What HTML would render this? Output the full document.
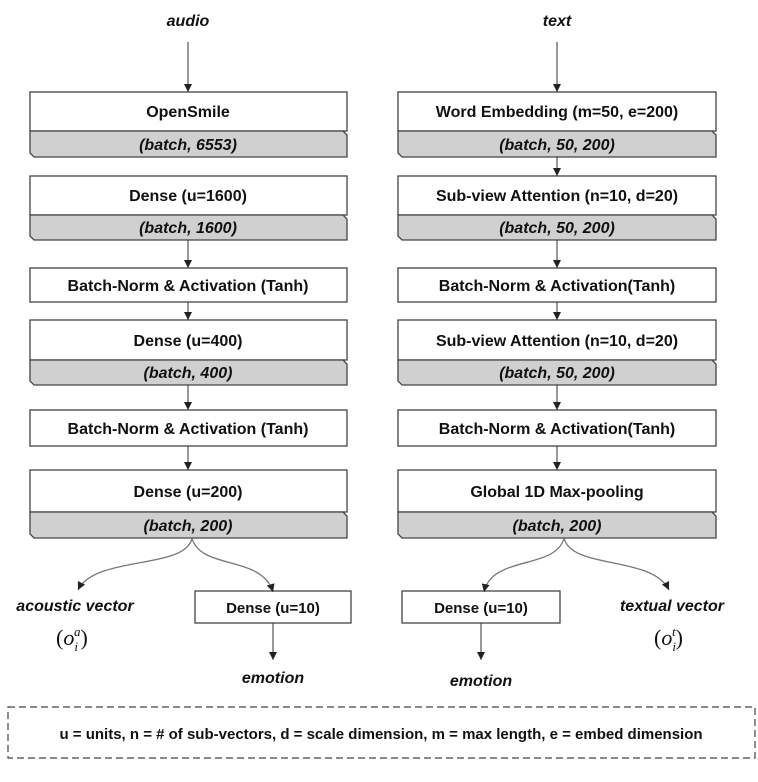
<!DOCTYPE html>
<html><head><meta charset="utf-8"><style>
html,body{margin:0;padding:0;background:#fff;}
svg{display:block;}
text{font-family:"Liberation Sans",sans-serif;font-weight:bold;fill:#111;}
</style></head><body>
<svg width="758" height="782" viewBox="0 0 758 782" xmlns="http://www.w3.org/2000/svg">
<defs>
<marker id="ah" markerWidth="8" markerHeight="8" refX="8" refY="4" orient="auto" markerUnits="userSpaceOnUse">
<path d="M0,0 L8,4 L0,8 z" fill="#222"/>
</marker>
</defs>
<g stroke="#444" stroke-width="1.3">
<rect x="30" y="92" width="317" height="39" fill="#fff"/>
<path d="M30,131 H343 L347,135 V157 H34 L30,153 Z" fill="#d0d0d0"/>
<rect x="30" y="176" width="317" height="39" fill="#fff"/>
<path d="M30,215 H343 L347,219 V240 H34 L30,236 Z" fill="#d0d0d0"/>
<rect x="30" y="268" width="317" height="34" fill="#fff"/>
<rect x="30" y="320" width="317" height="40" fill="#fff"/>
<path d="M30,360 H343 L347,364 V385 H34 L30,381 Z" fill="#d0d0d0"/>
<rect x="30" y="410" width="317" height="36" fill="#fff"/>
<rect x="30" y="470" width="317" height="42" fill="#fff"/>
<path d="M30,512 H343 L347,516 V538 H34 L30,534 Z" fill="#d0d0d0"/>
<rect x="398" y="92" width="318" height="39" fill="#fff"/>
<path d="M398,131 H712 L716,135 V157 H402 L398,153 Z" fill="#d0d0d0"/>
<rect x="398" y="176" width="318" height="39" fill="#fff"/>
<path d="M398,215 H712 L716,219 V240 H402 L398,236 Z" fill="#d0d0d0"/>
<rect x="398" y="268" width="318" height="34" fill="#fff"/>
<rect x="398" y="320" width="318" height="40" fill="#fff"/>
<path d="M398,360 H712 L716,364 V385 H402 L398,381 Z" fill="#d0d0d0"/>
<rect x="398" y="410" width="318" height="36" fill="#fff"/>
<rect x="398" y="470" width="318" height="42" fill="#fff"/>
<path d="M398,512 H712 L716,516 V538 H402 L398,534 Z" fill="#d0d0d0"/>
<rect x="195" y="591" width="156" height="32" fill="#fff"/>
<rect x="402" y="591" width="158" height="32" fill="#fff"/>
</g>
<g stroke="#333" stroke-width="1" fill="none" marker-end="url(#ah)">
<line x1="188" y1="42" x2="188" y2="92"/>
<line x1="188" y1="240" x2="188" y2="268"/>
<line x1="188" y1="302" x2="188" y2="320"/>
<line x1="188" y1="385" x2="188" y2="410"/>
<line x1="188" y1="446" x2="188" y2="470"/>
<line x1="557" y1="42" x2="557" y2="92"/>
<line x1="557" y1="157" x2="557" y2="176"/>
<line x1="557" y1="240" x2="557" y2="268"/>
<line x1="557" y1="302" x2="557" y2="320"/>
<line x1="557" y1="385" x2="557" y2="410"/>
<line x1="557" y1="446" x2="557" y2="470"/>
<line x1="273" y1="623" x2="273" y2="660"/>
<line x1="481" y1="623" x2="481" y2="660"/>
</g>
<g stroke="#777" stroke-width="1.3" fill="none" marker-end="url(#ah)">
<path d="M192,538 C186,570 95,555 78,590"/>
<path d="M192,538 C200,570 262,555 273,592"/>
<path d="M564,538 C556,570 492,555 484,592"/>
<path d="M564,538 C572,570 652,555 669,590"/>
</g>
<g font-size="16" text-anchor="middle">
<text x="188" y="26" font-style="italic">audio</text>
<text x="557" y="26" font-style="italic">text</text>
<text x="188" y="117">OpenSmile</text>
<text x="188" y="150" font-style="italic">(batch, 6553)</text>
<text x="188" y="201">Dense (u=1600)</text>
<text x="188" y="233" font-style="italic">(batch, 1600)</text>
<text x="188" y="291">Batch-Norm &amp; Activation (Tanh)</text>
<text x="188" y="346">Dense (u=400)</text>
<text x="188" y="378" font-style="italic">(batch, 400)</text>
<text x="188" y="434">Batch-Norm &amp; Activation (Tanh)</text>
<text x="188" y="497">Dense (u=200)</text>
<text x="188" y="531" font-style="italic">(batch, 200)</text>
<text x="557" y="117">Word Embedding (m=50, e=200)</text>
<text x="557" y="150" font-style="italic">(batch, 50, 200)</text>
<text x="557" y="201">Sub-view Attention (n=10, d=20)</text>
<text x="557" y="233" font-style="italic">(batch, 50, 200)</text>
<text x="557" y="291">Batch-Norm &amp; Activation(Tanh)</text>
<text x="557" y="346">Sub-view Attention (n=10, d=20)</text>
<text x="557" y="378" font-style="italic">(batch, 50, 200)</text>
<text x="557" y="434">Batch-Norm &amp; Activation(Tanh)</text>
<text x="557" y="497">Global 1D Max-pooling</text>
<text x="557" y="531" font-style="italic">(batch, 200)</text>
<text x="273" y="613" font-size="15">Dense (u=10)</text>
<text x="481" y="613" font-size="15">Dense (u=10)</text>
<text x="273" y="683" font-style="italic">emotion</text>
<text x="481" y="686" font-style="italic">emotion</text>
<text x="75" y="611" font-style="italic">acoustic vector</text>
<text x="672" y="611" font-style="italic">textual vector</text>
</g>
<text x="56" y="645" font-size="22" style="font-family:'Liberation Serif',serif;font-weight:normal">(<tspan font-style="italic">o</tspan><tspan font-size="13" font-style="italic" dy="6">i</tspan><tspan font-size="13" font-style="italic" dx="-4" dy="-15">a</tspan><tspan dy="9">)</tspan></text>
<text x="654" y="645" font-size="22" style="font-family:'Liberation Serif',serif;font-weight:normal">(<tspan font-style="italic">o</tspan><tspan font-size="13" font-style="italic" dy="6">i</tspan><tspan font-size="13" font-style="italic" dx="-4" dy="-15">t</tspan><tspan dy="9">)</tspan></text>
<rect x="8" y="707" width="747" height="51" fill="none" stroke="#444" stroke-width="1.2" stroke-dasharray="7,4"/>
<text x="381" y="739" font-size="15" text-anchor="middle">u = units, n = # of sub-vectors, d = scale dimension, m = max length, e =  embed dimension</text>
</svg>
</body></html>
